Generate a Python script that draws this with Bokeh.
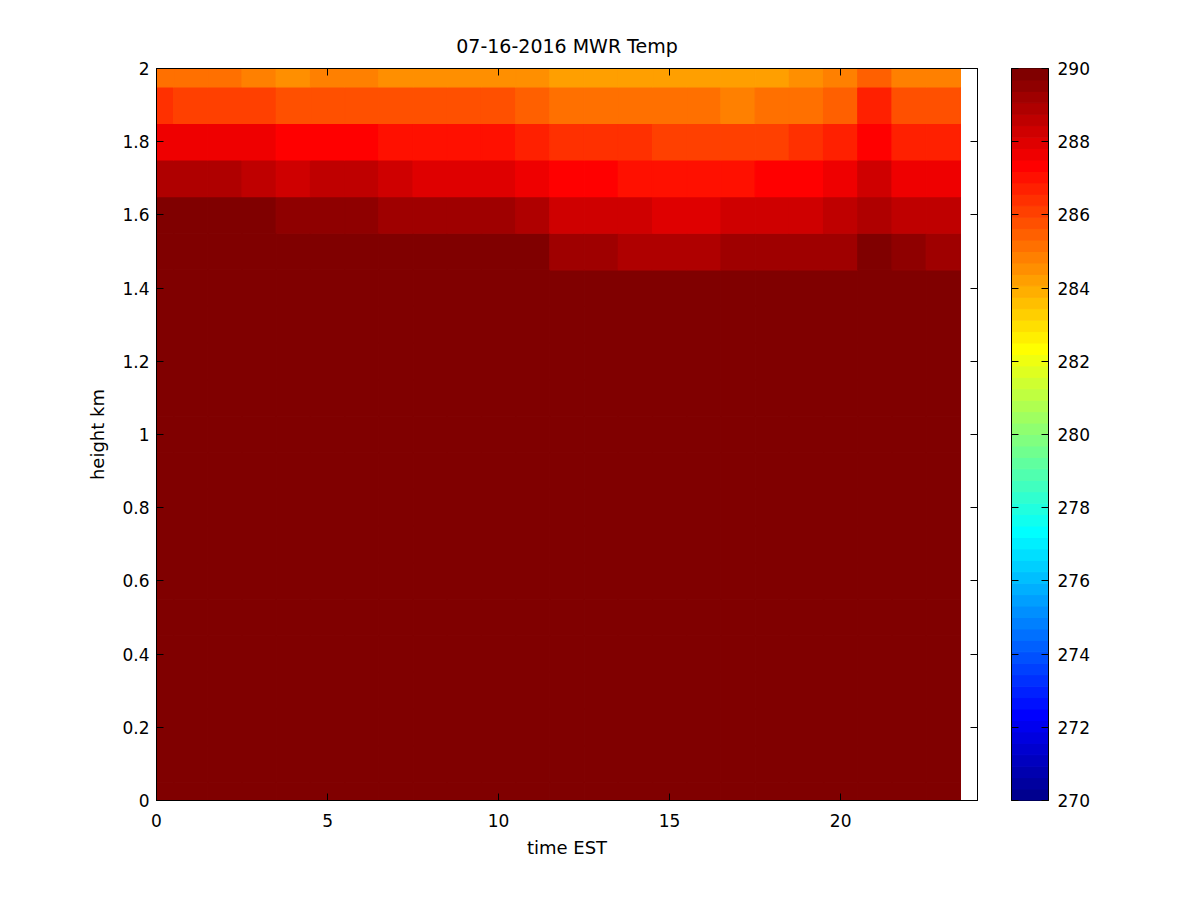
import math
from bokeh.plotting import figure
from bokeh.models import Range1d, LinearAxis, FixedTicker, ColumnDataSource, CustomJSTickFormatter
from bokeh.layouts import row
from bokeh.transform import linear_cmap
from bokeh.embed import file_html
from bokeh.resources import INLINE

# ---------------- data ----------------
TITLE = "07-16-2016 MWR Temp"
X_LABEL = "time EST"
Y_LABEL = "height km"

hours = [0, 1, 2, 3, 4, 5, 6, 7, 8, 9, 10, 11, 12, 13, 14, 15, 16, 17, 18, 19, 20, 21, 22, 23]
heights = [0.0, 0.1, 0.2, 0.3, 0.4, 0.5, 0.6, 0.7, 0.8, 0.9, 1.0,
           1.1, 1.2, 1.3, 1.4, 1.5, 1.6, 1.7, 1.8, 1.9, 2.0]

# temperature (K) per level, one value per hour
temp_2_0 = [285.2, 285.2, 285.2, 284.8, 284.5, 284.8, 284.8, 284.5, 284.5, 284.5, 284.5, 284.5,
            284.2, 284.2, 284.2, 284.2, 284.2, 284.2, 284.2, 284.5, 284.8, 285.5, 284.8, 284.8]
temp_1_9 = [286.4, 286.1, 286.1, 286.1, 285.8, 285.8, 285.8, 285.8, 285.8, 285.8, 285.8, 285.5,
            285.2, 285.2, 285.2, 285.2, 285.2, 284.8, 285.2, 285.2, 285.5, 286.7, 285.8, 285.8]
temp_1_8 = [287.7, 287.7, 287.7, 287.7, 287.3, 287.3, 287.3, 287.0, 287.0, 287.0, 287.0, 286.7,
            286.4, 286.4, 286.4, 286.1, 286.1, 286.1, 286.1, 286.4, 286.7, 287.3, 286.7, 286.7]
temp_1_7 = [288.9, 288.9, 288.9, 288.6, 288.3, 288.6, 288.6, 288.3, 288.0, 288.0, 288.0, 287.7,
            287.3, 287.3, 287.0, 287.0, 287.0, 287.0, 287.3, 287.3, 287.7, 288.3, 287.7, 287.7]
temp_1_6 = [289.9, 289.9, 289.9, 289.9, 289.5, 289.5, 289.5, 289.2, 289.2, 289.2, 289.2, 288.9,
            288.3, 288.3, 288.3, 288.0, 288.0, 288.3, 288.3, 288.3, 288.6, 288.9, 288.6, 288.6]
temp_1_5 = [289.9, 289.9, 289.9, 289.9, 289.9, 289.9, 289.9, 289.9, 289.9, 289.9, 289.9, 289.9,
            289.2, 289.2, 288.9, 288.9, 288.9, 289.2, 289.2, 289.2, 289.2, 289.9, 289.5, 289.2]
# levels 0.0 .. 1.4 km are all at / above the top of the colour scale (saturated)
temp_low_levels = 290.0

x_ticks = [0, 5, 10, 15, 20]
y_ticks = [0, 0.2, 0.4, 0.6, 0.8, 1, 1.2, 1.4, 1.6, 1.8, 2]
cbar_ticks = [270, 272, 274, 276, 278, 280, 282, 284, 286, 288, 290]
clim = (270, 290)

upper = {1.5: temp_1_5, 1.6: temp_1_6, 1.7: temp_1_7, 1.8: temp_1_8, 1.9: temp_1_9, 2.0: temp_2_0}

# ---------------- jet colormap (MATLAB jet(64)) ----------------
def jet(m):
    n = math.ceil(m / 4)
    u = [i / n for i in range(1, n + 1)] + [1.0] * (n - 1) + [i / n for i in range(n, 0, -1)]
    g0 = math.ceil(n / 2) - (1 if m % 4 == 1 else 0)
    R = [0.0] * m; G = [0.0] * m; B = [0.0] * m
    for j, val in enumerate(u):
        gi = g0 + j + 1
        ri = gi + n
        bi = gi - n
        if 1 <= gi <= m: G[gi - 1] = val
        if 1 <= ri <= m: R[ri - 1] = val
        if 1 <= bi <= m: B[bi - 1] = val
    return ["#%02x%02x%02x" % (round(r * 255), round(g * 255), round(b * 255)) for r, g, b in zip(R, G, B)]

palette = jet(64)

# ---------------- cells ----------------
dx = hours[1] - hours[0]
dy = round(heights[1] - heights[0], 3)
L, R_, Bt, T, V = [], [], [], [], []
for h in heights:
    vals = upper.get(h, [temp_low_levels] * len(hours))
    for t, v in zip(hours, vals):
        L.append(t - dx / 2); R_.append(t + dx / 2)
        Bt.append(h - dy / 2); T.append(h + dy / 2)
        V.append(v)
src = ColumnDataSource(dict(left=L, right=R_, bottom=Bt, top=T, temp=V))

FONT = "DejaVu Sans"
TICK_FS = "17px"
LABEL_FS = "18px"

p = figure(frame_width=821, frame_height=732,
           x_range=Range1d(0, 24), y_range=Range1d(0, 2),
           output_backend="svg", toolbar_location=None,
           min_border_left=156, min_border_top=68, min_border_bottom=92, min_border_right=14,
           title=TITLE)
cmap = linear_cmap("temp", palette, clim[0], clim[1])
p.quad(left="left", right="right", bottom="bottom", top="top", source=src,
       fill_color=cmap, line_color=cmap, line_width=1.2)

p.grid.visible = False
p.outline_line_color = "black"
p.outline_line_width = 1
p.background_fill_color = "white"
p.border_fill_color = "white"

p.title.align = "center"
p.title.text_font = FONT
p.title.text_font_size = "19px"
p.title.text_font_style = "normal"
p.title.text_color = "black"
p.title.standoff = 24

yfmt = CustomJSTickFormatter(code="return String(Math.round(tick*10)/10);")
blank = CustomJSTickFormatter(code="return '';")

def style_axis(ax, labels=True):
    ax.major_tick_in = 7
    ax.major_tick_out = 0
    ax.minor_tick_line_color = None
    ax.major_tick_line_color = "black"
    ax.axis_line_color = "black"
    ax.major_label_text_font = FONT
    ax.major_label_text_color = "black"
    ax.major_label_text_font_size = TICK_FS
    ax.axis_label_text_font = FONT
    ax.axis_label_text_font_size = LABEL_FS
    ax.axis_label_text_font_style = "normal"
    ax.axis_label_text_color = "black"
    if labels:
        ax.major_label_standoff = 9
    else:
        ax.formatter = blank
        ax.major_label_standoff = 0

p.xaxis.ticker = FixedTicker(ticks=x_ticks)
p.yaxis.ticker = FixedTicker(ticks=y_ticks)
p.yaxis.formatter = yfmt
p.xaxis.axis_label = X_LABEL
p.yaxis.axis_label = Y_LABEL
style_axis(p.xaxis[0]); style_axis(p.yaxis[0])
p.xaxis.major_label_standoff = 13
p.yaxis.major_label_standoff = 7
p.xaxis.axis_label_standoff = 7
p.yaxis.axis_label_standoff = 11

top_ax = LinearAxis(ticker=FixedTicker(ticks=x_ticks))
style_axis(top_ax, labels=False)
p.add_layout(top_ax, "above")
right_ax = LinearAxis(ticker=FixedTicker(ticks=y_ticks))
style_axis(right_ax, labels=False)
p.add_layout(right_ax, "right")

# ---------------- colour bar ----------------
step = (clim[1] - clim[0]) / len(palette)
cb_src = ColumnDataSource(dict(bottom=[clim[0] + i * step for i in range(len(palette))],
                               top=[clim[0] + (i + 1) * step for i in range(len(palette))],
                               color=palette))
cb = figure(frame_width=37, frame_height=732,
            x_range=Range1d(0, 1), y_range=Range1d(clim[0], clim[1]),
            output_backend="svg", toolbar_location=None,
            x_axis_location=None, y_axis_location="right",
            min_border_left=20, min_border_right=100, min_border_top=68, min_border_bottom=92)
cb.quad(left=0, right=1, bottom="bottom", top="top", source=cb_src,
        fill_color="color", line_color="color", line_width=1)
cb.grid.visible = False
cb.outline_line_color = "black"
cb.yaxis.ticker = FixedTicker(ticks=cbar_ticks)
style_axis(cb.yaxis[0])
cb.yaxis.major_label_standoff = 9
left_cb = LinearAxis(ticker=FixedTicker(ticks=cbar_ticks))
style_axis(left_cb, labels=False)
cb.add_layout(left_cb, "left")

layout = row(p, cb)
open("out.html", "w").write(file_html(layout, INLINE))
